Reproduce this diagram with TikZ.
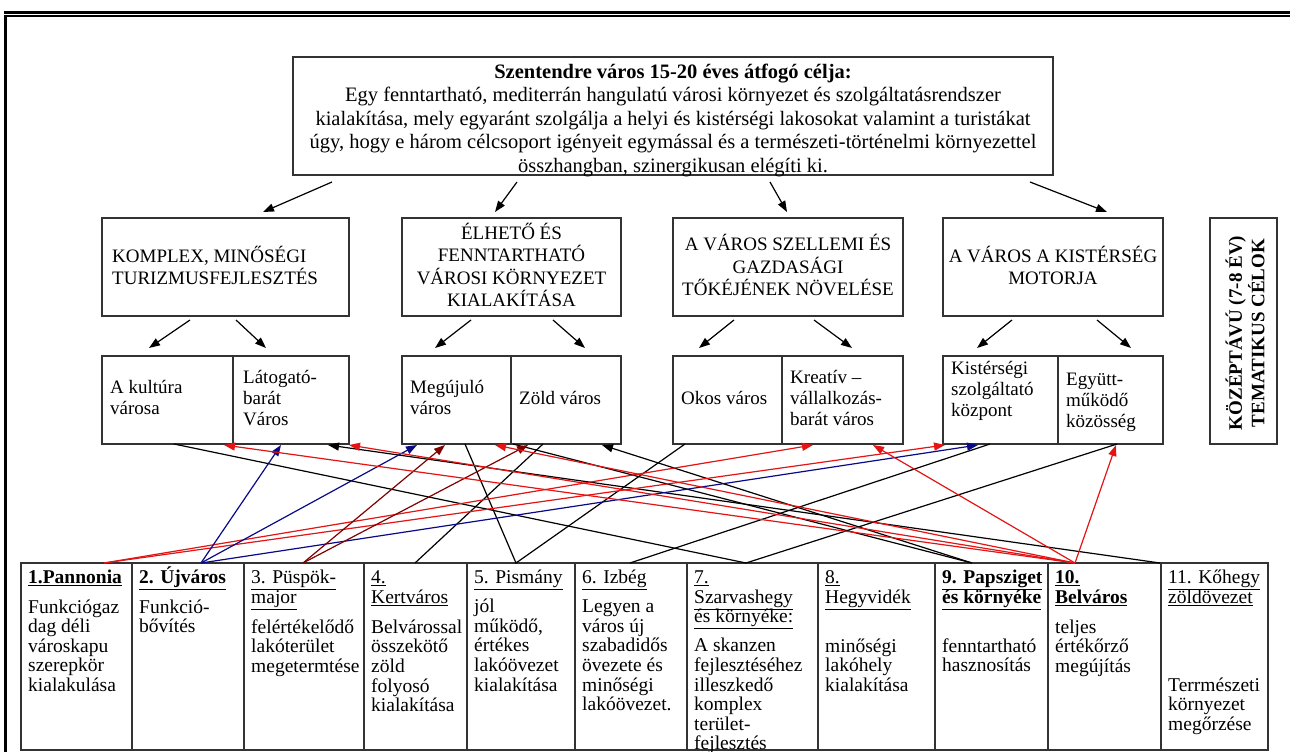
\documentclass[tikz,border=0pt]{standalone}
\usepackage{fontspec}
\setmainfont{Liberation Serif}
\usetikzlibrary{arrows.meta}
\newcommand\bfs{\fontsize{19}{22.5}\selectfont\lineskiplimit=-50pt\relax}
\newcommand\gfs{\fontsize{20.5}{23.5}\selectfont\lineskiplimit=-50pt\relax}
\newcommand\sfz{\fontsize{19}{21}\selectfont\lineskiplimit=-50pt\relax}
\newcommand\tfz{\fontsize{19.5}{19.6}\selectfont\lineskiplimit=-50pt\relax}
\newcommand\tstrut{\rule{0pt}{18pt}}
\newcommand\gstrut{\rule{0pt}{20pt}}
\definecolor{cred}{RGB}{228,20,20}
\definecolor{cblue}{RGB}{10,10,135}
\definecolor{cmaroon}{RGB}{128,0,0}
\begin{document}
\begin{tikzpicture}[x=1pt,y=-1pt,
  frame/.style={draw=black!80,line width=1.1pt},
  boxn/.style={frame,rectangle,inner sep=0pt},
  txt/.style={inner sep=0pt,font=\bfs},
  stxt/.style={inner sep=0pt,font=\sfz,align=left,anchor=north west},
  ttxt/.style={inner sep=0pt,font=\tfz,align=left,anchor=north west},
  conn/.style={line width=1.2pt},
  arr/.style={conn,-{Triangle[length=11pt,width=8pt]}},
]
\useasboundingbox[fill=white] (0,0) rectangle (1290,752);
% page border
\draw[line width=2.2pt] (3.5,12.5) -- (1290,12.5);
\draw[line width=1.6pt] (4,16) -- (1290,16);
\draw[line width=3pt] (5.5,15) -- (5.5,752);

% top goal box
\node[boxn,minimum width=760pt,minimum height=118pt] (goal) at (673,116) {};
\node[inner sep=0pt,font=\gfs,align=center,anchor=north] (goaltext) at (673,58)
 {\gstrut\textbf{Szentendre város 15-20 éves átfogó célja:}\\
  Egy fenntartható, mediterrán hangulatú városi környezet és szolgáltatásrendszer\\
  kialakítása, mely egyaránt szolgálja a helyi és kistérségi lakosokat valamint a turistákat\\
  úgy, hogy e három célcsoport igényeit egymással és a természeti-történelmi környezettel\\
  összhangban, szinergikusan elégíti ki.};

% theme boxes
\node[boxn,minimum width=247pt,minimum height=98pt] (t1) at (225.5,267) {};
\node[boxn,minimum width=219pt,minimum height=98pt] (t2) at (511.5,267) {};
\node[boxn,minimum width=230pt,minimum height=98pt] (t3) at (788,267) {};
\node[boxn,minimum width=220pt,minimum height=98pt] (t4) at (1053,267) {};
\node[txt,align=left,anchor=north west] (t1t) at (112,244) {\tstrut KOMPLEX, MINŐSÉGI\\TURIZMUSFEJLESZTÉS};
\node[txt,align=center,anchor=north] (t2t) at (511.5,221) {\tstrut ÉLHETŐ ÉS\\FENNTARTHATÓ\\VÁROSI KÖRNYEZET\\KIALAKÍTÁSA};
\node[txt,align=center,anchor=north] (t3t) at (788,232.5) {\tstrut A VÁROS SZELLEMI ÉS\\GAZDASÁGI\\TŐKÉJÉNEK NÖVELÉSE};
\node[txt,align=center,anchor=north] (t4t) at (1053,244) {\tstrut A VÁROS A KISTÉRSÉG\\MOTORJA};

% vertical label
\node[boxn,minimum width=67pt,minimum height=226pt] (side) at (1243.5,331) {};
\node[txt,align=center,rotate=90,font=\bfs\bfseries] (sidet) at (1245,333) {KÖZÉPTÁVÚ (7-8 ÉV)\\TEMATIKUS CÉLOK};

% sub boxes
\node[boxn,minimum width=131pt,minimum height=88pt] (kult) at (167.5,400) {};
\node[boxn,minimum width=116pt,minimum height=88pt] (lat) at (291,400) {};
\node[boxn,minimum width=109pt,minimum height=88pt] (meg) at (456.5,400) {};
\node[boxn,minimum width=110pt,minimum height=88pt] (zold) at (566,400) {};
\node[boxn,minimum width=109pt,minimum height=88pt] (okos) at (727.5,400) {};
\node[boxn,minimum width=121pt,minimum height=88pt] (kre) at (842.5,400) {};
\node[boxn,minimum width=115pt,minimum height=88pt] (kis) at (1000.5,400) {};
\node[boxn,minimum width=105pt,minimum height=88pt] (egy) at (1110.5,400) {};
\node[stxt] (kultt) at (110,375.5) {\tstrut A kultúra\\városa};
\node[stxt] (latt) at (243,365.5) {\tstrut Látogató-\\barát\\Város};
\node[stxt] (megt) at (410,375.5) {\tstrut Megújuló\\város};
\node[stxt] (zoldt) at (519,386.5) {\tstrut Zöld város};
\node[stxt] (okost) at (681,386.5) {\tstrut Okos város};
\node[stxt] (kret) at (790,365.5) {\tstrut Kreatív –\\vállalkozás-\\barát város};
\node[stxt] (kist) at (951,356.5) {\tstrut Kistérségi\\szolgáltató\\központ};
\node[stxt] (egyt) at (1066,367.5) {\tstrut Együtt-\\működő\\közösség};

% table
\draw[frame] (21,563) rectangle (1268,750);
\foreach \x in {132,244,364,467,575,687,818,935,1048,1161}
  \draw[frame] (\x,563) -- (\x,750);
\node[ttxt] (c1) at (28,565.5) {\tstrut\textbf{\underline{1.Pannonia}}\\[9.8pt]Funkciógaz\\dag déli\\városkapu\\szerepkör\\kialakulása};
\node[ttxt] (c2) at (139,565.5) {\tstrut\textbf{\underline{2. Újváros}}\\[9.8pt]Funkció-\\bővítés};
\node[ttxt] (c3) at (251,565.5) {\tstrut\underline{3. Püspök-}\\\underline{major}\\[10.4pt]felértékelődő\\lakóterület\\megetermtése};
\node[ttxt] (c4) at (371,565.5) {\tstrut\underline{4.}\\\underline{Kertváros}\\[10.4pt]Belvárossal\\összekötő\\zöld\\folyosó\\kialakítása};
\node[ttxt] (c5) at (474,565.5) {\tstrut\underline{5. Pismány}\\[9.4pt]jól\\működő,\\értékes\\lakóövezet\\kialakítása};
\node[ttxt] (c6) at (582,565.5) {\tstrut\underline{6. Izbég}\\[9.4pt]Legyen a\\város új\\szabadidős\\övezete és\\minőségi\\lakóövezet.};
\node[ttxt] (c7) at (694,565.5) {\tstrut\underline{7.}\\\underline{Szarvashegy}\\\underline{és környéke:}\\[9.4pt]A skanzen\\fejlesztéséhez\\illeszkedő\\komplex\\terület-\\fejlesztés};
\node[ttxt] (c8) at (825,565.5) {\tstrut\underline{8.}\\\underline{Hegyvidék}\\[29.4pt]minőségi\\lakóhely\\kialakítása};
\node[ttxt] (c9) at (942,565.5) {\tstrut\textbf{\underline{9. Papsziget}}\\\textbf{\underline{és környéke}}\\[29.4pt]fenntartható\\hasznosítás};
\node[ttxt] (c10) at (1055,565.5) {\tstrut\textbf{\underline{10.}}\\\textbf{\underline{Belváros}}\\[10.4pt]teljes\\értékőrző\\megújítás};
\node[ttxt] (c11) at (1168,565.5) {\tstrut\underline{11. Kőhegy}\\\underline{zöldövezet}\\[68.4pt]Terrmészeti\\környezet\\megőrzése};

% top arrows
\coordinate (g1) at (332,182); \coordinate (h1) at (263,212);
\coordinate (g2) at (517,182); \coordinate (h2) at (495,212);
\coordinate (g3) at (770,182); \coordinate (h3) at (787,212);
\coordinate (g4) at (1030,182); \coordinate (h4) at (1107,212);
\draw[arr] (g1) -- (h1);
\draw[arr] (g2) -- (h2);
\draw[arr] (g3) -- (h3);
\draw[arr] (g4) -- (h4);

% theme -> sub arrows
\coordinate (s1a) at (190,320); \coordinate (s1b) at (149,348);
\coordinate (s2a) at (236,320); \coordinate (s2b) at (266,348);
\coordinate (s3a) at (471,320); \coordinate (s3b) at (435,348);
\coordinate (s4a) at (553,320); \coordinate (s4b) at (585,348);
\coordinate (s5a) at (734,320); \coordinate (s5b) at (699,348);
\coordinate (s6a) at (814,320); \coordinate (s6b) at (852,348);
\coordinate (s7a) at (1012,320); \coordinate (s7b) at (977,348);
\coordinate (s8a) at (1097,320); \coordinate (s8b) at (1131,348);
\foreach \i in {1,...,8} \draw[arr] (s\i a) -- (s\i b);

% table anchor points
\coordinate (p1) at (104,563);
\coordinate (p2) at (201,563);
\coordinate (p3) at (303,563);
\coordinate (p4) at (415,563);
\coordinate (p5) at (516,563);
\coordinate (p6) at (630,563);
\coordinate (p7) at (746,563);
\coordinate (p9) at (972,563);
\coordinate (p10) at (1075,563);
\coordinate (p11) at (1160,563);
% sub box bottom points
\coordinate (kult-g) at (174,444);
\coordinate (kult-k) at (224,445);
\coordinate (lat-b) at (281,445);
\coordinate (lat-i) at (328,445);
\coordinate (lat-k) at (349,445);
\coordinate (meg-b) at (417,445);
\coordinate (meg-c) at (445,445);
\coordinate (meg-e) at (465,444);
\coordinate (meg-k) at (495,445);
\coordinate (zold-j) at (513,444);
\coordinate (zold-c) at (528,445);
\coordinate (zold-d) at (543,444);
\coordinate (zold-h) at (602,445);
\coordinate (okos-e) at (685,444);
\coordinate (kre-a) at (813,445);
\coordinate (kre-k) at (873,445);
\coordinate (kis-a) at (945,445);
\coordinate (kis-b) at (978,445);
\coordinate (kis-f) at (990,444);
\coordinate (egy-g) at (1117,444);
\coordinate (egy-k) at (1116,445);

% black plain lines
\draw[conn] (kult-g) -- (p7) -- (egy-g);
\draw[conn] (meg-e) -- (p5) -- (okos-e);
\draw[conn] (p4) -- (zold-d);
\draw[conn] (p6) -- (kis-f);
\draw[conn] (zold-j) -- (p9);
% black arrows
\draw[arr] (p9) -- (zold-h);
\draw[arr] (p11) -- (lat-i);
% red from Pannonia
\draw[arr,cred] (p1) -- (kre-a);
\draw[arr,cred] (p1) -- (kis-a);
% blue from Ujvaros
\draw[arr,cblue] (p2) -- (lat-b);
\draw[arr,cblue] (p2) -- (meg-b);
\draw[arr,cblue] (p2) -- (kis-b);
% maroon from Puspokmajor
\draw[arr,cmaroon] (p3) -- (meg-c);
\draw[arr,cmaroon] (p3) -- (zold-c);
% red from Belvaros
\draw[arr,cred] (p10) -- (kult-k);
\draw[arr,cred] (p10) -- (lat-k);
\draw[arr,cred] (p10) -- (meg-k);
\draw[arr,cred] (p10) -- (kre-k);
\draw[arr,cred] (p10) -- (egy-k);
\end{tikzpicture}
\end{document}
